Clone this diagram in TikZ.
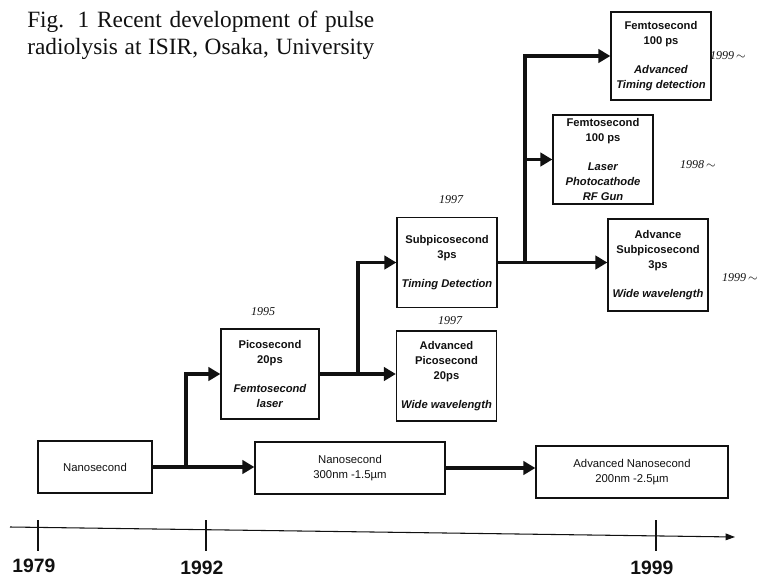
\documentclass[tikz,border=0pt]{standalone}
\usepackage{fontspec}
\setmainfont{Liberation Serif}
\setsansfont{Liberation Sans}
\usepackage{xcolor}
\definecolor{ScanBlack}{HTML}{111111}
\usetikzlibrary{arrows.meta, positioning, calc}

\begin{document}
\begin{tikzpicture}[
  x=0.75pt, y=-0.75pt,
  % === GRUNDSTILE ===
  % Box für Entwicklungsstufen
  stufe/.style={
    draw=ScanBlack,
    line width=0.9pt,
    minimum width=75pt,
    minimum height=67.5pt,
    inner sep=1pt,
    align=center,
    text=ScanBlack,
    font=\sffamily\bfseries\fontsize{8.4}{11.25}\selectfont
  },
  % Flache Box für Nanosekunden-Linie
  nanostufe/.style={
    stufe,
    minimum height=39pt,
    font=\sffamily\fontsize{8.5}{11.25}\selectfont
  },
  % Labels
  jahr/.style={
    font=\itshape\fontsize{9}{10}\selectfont,
    text=ScanBlack
  },
  achsjahr/.style={
    font=\sffamily\bfseries\fontsize{14.5}{16}\selectfont,
    text=ScanBlack,
    anchor=north,
    inner sep=0pt
  },
  titel/.style={
    font=\fontsize{17.5}{20.25}\selectfont,
    text=ScanBlack,
    anchor=base west,
    inner sep=0pt
  },
  % Pfeile
  flow/.style={
    draw=ScanBlack,
    line width=2.4pt,
    -{Triangle[length=9pt,width=10pt]}
  },
  achse/.style={
    draw=ScanBlack,
    line width=0.8pt,
    -{Triangle[length=7pt,width=5pt]}
  }
]

% =============================================================================
% HINTERGRUND
% =============================================================================
\useasboundingbox (0,0) rectangle (758,579);
\fill[white] (0,0) rectangle (758,579);

% =============================================================================
% TITEL
% =============================================================================
\node[titel] (titel1) at (27,27)
      {\makebox[260.25pt][s]{Fig. 1 Recent development of pulse}};
\node[titel] (titel2) at (27,54)
      {\makebox[260.25pt][s]{radiolysis at ISIR, Osaka, University}};

% =============================================================================
% STUFEN
% =============================================================================
\node[nanostufe, minimum width=85.5pt] (nano) at (95,467) {Nanosecond};
\node[nanostufe, minimum width=142.5pt] (nano2) at (350,468)
      {Nanosecond\\300nm -1.5µm};
\node[nanostufe, minimum width=144pt] (advNano) at (632,472)
      {Advanced Nanosecond\\200nm -2.5µm};

\node[stufe, minimum width=73.5pt] (pico) at (270,374)
      {Picosecond\\20ps\\[10pt]\textit{Femtosecond}\\\textit{laser}};
\node[stufe] (advPico) at (446.5,376)
      {Advanced\\Picosecond\\20ps\\[10pt]\textit{Wide wavelength}};
\node[stufe] (subpico) at (447,262.5)
      {Subpicosecond\\3ps\\[10pt]\textit{Timing Detection}};
\node[stufe, minimum height=69pt] (advSub) at (658,265)
      {Advance\\Subpicosecond\\3ps\\[10pt]\textit{Wide wavelength}};
\node[stufe, minimum height=66.75pt] (fsLaser) at (603,159.5)
      {Femtosecond\\100 ps\\[10pt]\textit{Laser}\\\textit{Photocathode}\\\textit{RF Gun}};
\node[stufe, minimum height=66pt] (fsTime) at (661,56)
      {Femtosecond\\100 ps\\[10pt]\textit{Advanced}\\\textit{Timing detection}};

% --- Jahreszahlen ---
\node[jahr] (j1995) at (263,312) {1995};
\node[jahr] (j1997a) at (451,200) {1997};
\node[jahr] (j1997b) at (450,321) {1997};
\node[jahr] (j1999a) at (728,56) {1999\,$\sim$};
\node[jahr] (j1998) at (698,165) {1998\,$\sim$};
\node[jahr] (j1999b) at (740,278) {1999\,$\sim$};

% =============================================================================
% VERBINDUNGEN
% =============================================================================
\coordinate (abzw1) at (186,467);
\coordinate (abzw2) at (358,374);
\coordinate (abzw3) at (525,262.5);

\draw[flow] (nano.east) -- (nano.east -| nano2.west);
\draw[flow] (nano2.east) -- (nano2.east -| advNano.west);
\draw[flow] (abzw1) |- (pico.west);
\draw[flow] (pico.east) -- (pico.east -| advPico.west);
\draw[flow] (abzw2) |- (subpico.west);
\draw[flow] (subpico.east) -- (subpico.east -| advSub.west);
\draw[flow] (abzw3) |- (fsLaser.west);
\draw[flow] (abzw3) |- (fsTime.west);

% =============================================================================
% ZEITACHSE
% =============================================================================
\coordinate (achsA) at (10,527);
\coordinate (achsB) at (735,537);
\draw[achse] (achsA) -- (achsB);
\foreach \x/\y/\jahr in {38/559/1979, 206/561/1992, 656/561/1999} {
  \draw[ScanBlack, line width=0.8pt] (\x,520) -- (\x,551);
  \node[achsjahr] (achs\jahr) at (\x-4,\y) {\jahr};
}

\end{tikzpicture}
\end{document}
